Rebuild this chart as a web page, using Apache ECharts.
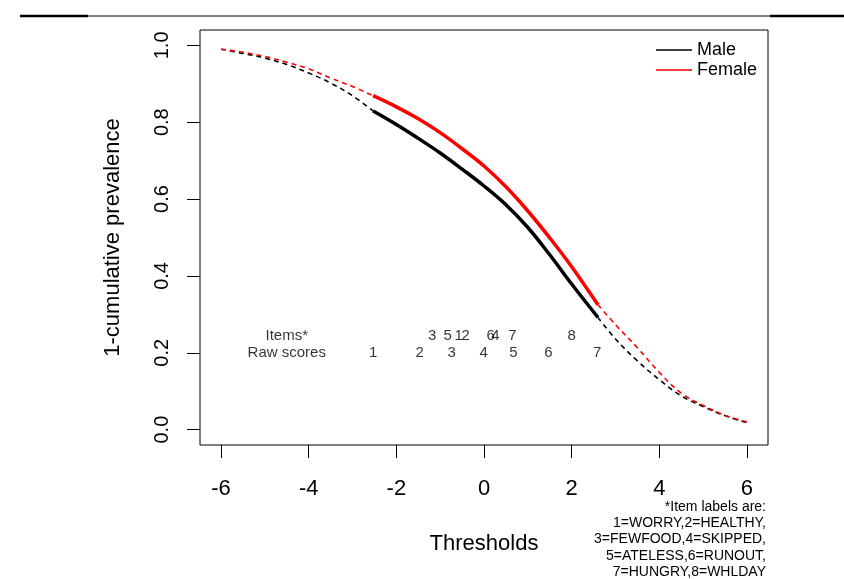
<!DOCTYPE html>
<html>
<head>
<meta charset="utf-8">
<script src="https://cdn.jsdelivr.net/npm/echarts@6/dist/echarts.min.js"></script>
<style>
  html, body { margin: 0; padding: 0; background: #fff; }
  #chart { width: 844px; height: 579px; }
</style>
</head>
<body>
<div id="chart"></div>
<script>
// thresholds (x) shared by both curves
var thresholds = [-6, -5.5, -5, -4.5, -4, -3.5, -3, -2.53, -2, -1.5, -1, -0.5, 0, 0.5, 1, 1.5, 2, 2.6, 3, 3.5, 4, 4.5, 5, 5.5, 6];
var maleY = [0.990, 0.979, 0.967, 0.950, 0.928, 0.902, 0.869, 0.829, 0.794, 0.758, 0.720, 0.678, 0.634, 0.585, 0.526, 0.455, 0.379, 0.292, 0.236, 0.179, 0.130, 0.088, 0.060, 0.036, 0.018];
var femaleY = [0.990, 0.982, 0.971, 0.956, 0.939, 0.915, 0.893, 0.869, 0.840, 0.809, 0.773, 0.731, 0.686, 0.632, 0.569, 0.499, 0.424, 0.325, 0.273, 0.213, 0.149, 0.095, 0.063, 0.037, 0.020];
// observed range (raw score 1 .. 7) drawn solid, the rest dashed
var solidFrom = 7;
var solidTo = 17;

var itemPos = [-1.18, -0.83, -0.58, -0.42, 0.15, 0.26, 0.65, 2.0];
var itemLabels = ['3', '5', '1', '2', '6', '4', '7', '8'];
var rawPos = [-2.53, -1.47, -0.74, -0.01, 0.67, 1.47, 2.58];
var rawLabels = ['1', '2', '3', '4', '5', '6', '7'];
var itemsRowY = 0.245;
var rawRowY = 0.2;
var rowTitleX = -4.5;

var xTicks = [-6, -4, -2, 0, 2, 4, 6];
var yTicks = [0, 0.2, 0.4, 0.6, 0.8, 1.0];

var noteLines = ['*Item labels are:', '1=WORRY,2=HEALTHY,', '3=FEWFOOD,4=SKIPPED,', '5=ATELESS,6=RUNOUT,', '7=HUNGRY,8=WHLDAY'];

var FONT = '"Liberation Sans", Arial, sans-serif';

function pairs(ys, a, b) {
  var out = [];
  for (var i = a; i <= b; i++) out.push([thresholds[i], ys[i]]);
  return out;
}

function curve(name, color, ys) {
  var last = thresholds.length - 1;
  var dashed = { width: 1.6, color: color, type: [5, 4] };
  return [
    { name: name, type: 'line', color: color, smooth: 0.4, showSymbol: false, data: pairs(ys, 0, solidFrom), lineStyle: dashed },
    { name: name, type: 'line', color: color, smooth: 0.4, showSymbol: false, data: pairs(ys, solidFrom, solidTo), lineStyle: { width: 3.5, color: color } },
    { name: name, type: 'line', color: color, smooth: 0.4, showSymbol: false, data: pairs(ys, solidTo, last), lineStyle: dashed }
  ];
}

function textRow(name, xs, ys, labels) {
  var d = [];
  for (var i = 0; i < xs.length; i++) d.push([xs[i], ys[i], labels[i]]);
  return {
    name: name,
    type: 'scatter',
    symbolSize: 0,
    silent: true,
    data: d,
    label: {
      show: true,
      position: 'inside',
      formatter: function (p) { return p.data[2]; },
      color: '#000',
      fontFamily: FONT,
      fontSize: 15
    }
  };
}

function fill(v, n) {
  var a = [];
  for (var i = 0; i < n; i++) a.push(v);
  return a;
}

var chart = echarts.init(document.getElementById('chart'));

var series = []
  .concat(curve('Male', '#000000', maleY))
  .concat(curve('Female', '#ff0000', femaleY));
series.push(textRow('items', itemPos, fill(itemsRowY, itemPos.length), itemLabels));
series.push(textRow('raw', rawPos, fill(rawRowY, rawPos.length), rawLabels));
series.push(textRow('rowTitles', [rowTitleX, rowTitleX], [itemsRowY, rawRowY], ['Items*', 'Raw scores']));

var graphics = [
  // document rule above the figure
  { type: 'line', shape: { x1: 88, y1: 16, x2: 770, y2: 16 }, style: { stroke: '#000', lineWidth: 1 } },
  { type: 'line', shape: { x1: 20, y1: 16, x2: 88, y2: 16 }, style: { stroke: '#000', lineWidth: 2.5 } },
  { type: 'line', shape: { x1: 770, y1: 16, x2: 844, y2: 16 }, style: { stroke: '#000', lineWidth: 2.5 } }
];
noteLines.forEach(function (t, i) {
  graphics.push({
    type: 'text',
    right: 78,
    top: 500 + i * 16.3,
    style: { text: t, font: '14px ' + FONT, fill: '#000' }
  });
});

var option = {
  backgroundColor: '#fff',
  animation: false,
  grid: {
    left: 200,
    right: 76,
    top: 30,
    bottom: 134,
    show: true,
    borderColor: '#000',
    borderWidth: 1,
    containLabel: false
  },
  legend: {
    data: ['Male', 'Female'],
    orient: 'vertical',
    left: 651,
    top: 36,
    icon: 'rect',
    itemWidth: 36,
    itemHeight: 1.5,
    itemGap: 2,
    textStyle: { fontFamily: FONT, fontSize: 18, color: '#000', lineHeight: 17 }
  },
  xAxis: {
    type: 'value',
    min: -6.48,
    max: 6.48,
    name: 'Thresholds',
    nameLocation: 'middle',
    nameGap: 88,
    nameTextStyle: { fontFamily: FONT, fontSize: 22, color: '#000' },
    axisLine: { show: false, onZero: false },
    splitLine: { show: false },
    axisTick: { show: true, length: 13, customValues: xTicks, lineStyle: { color: '#000' } },
    axisLabel: {
      customValues: xTicks,
      margin: 33,
      fontFamily: FONT,
      fontSize: 22,
      color: '#000'
    }
  },
  yAxis: {
    type: 'value',
    min: -0.04,
    max: 1.04,
    name: '1-cumulative prevalence',
    nameLocation: 'middle',
    nameRotate: 90,
    nameGap: 76,
    nameTextStyle: { fontFamily: FONT, fontSize: 22, color: '#000' },
    axisLine: { show: false, onZero: false },
    splitLine: { show: false },
    axisTick: { show: true, length: 13, customValues: yTicks, lineStyle: { color: '#000' } },
    axisLabel: {
      customValues: yTicks,
      rotate: 90,
      margin: 28,
      fontFamily: FONT,
      fontSize: 20,
      color: '#000',
      formatter: function (v) { return v.toFixed(1); }
    }
  },
  graphic: graphics,
  series: series
};

chart.setOption(option);
</script>
</body>
</html>
